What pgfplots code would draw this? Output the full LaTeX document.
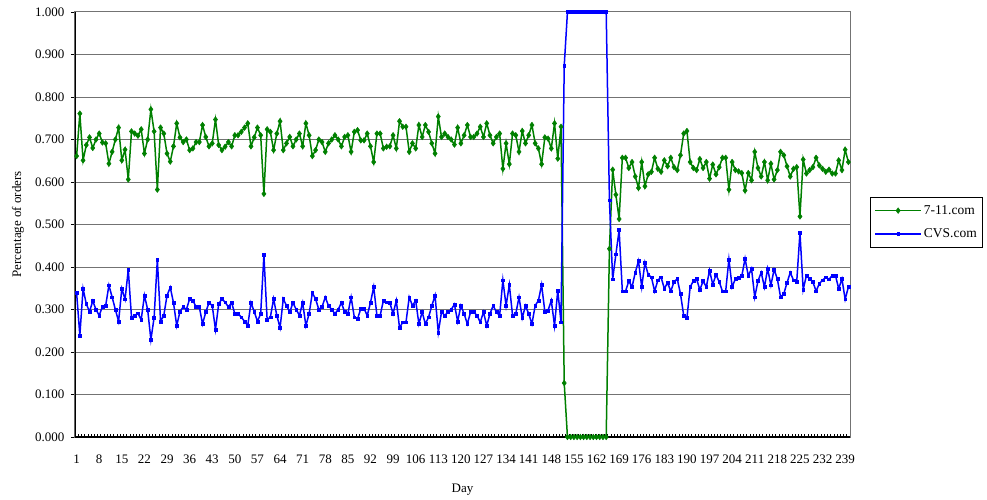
\documentclass[border=0pt]{standalone}
\usepackage{pgfplots}
\pgfplotsset{compat=1.18}
\usepackage{pgfplotstable}
\usepackage{fontspec}
\setmainfont{Liberation Serif}
\definecolor{elgreen}{RGB}{0,128,0}
\definecolor{elblue}{RGB}{0,0,255}
\pgfplotstableread{
day g c
1 0.661 0.339
2 0.761 0.239
3 0.651 0.349
4 0.687 0.313
5 0.705 0.295
6 0.680 0.320
7 0.700 0.300
8 0.714 0.286
9 0.693 0.307
10 0.691 0.309
11 0.643 0.357
12 0.671 0.329
13 0.700 0.300
14 0.728 0.272
15 0.651 0.349
16 0.676 0.324
17 0.606 0.394
18 0.719 0.281
19 0.714 0.286
20 0.709 0.291
21 0.724 0.276
22 0.667 0.333
23 0.700 0.300
24 0.771 0.229
25 0.719 0.281
26 0.582 0.418
27 0.728 0.272
28 0.714 0.286
29 0.667 0.333
30 0.648 0.352
31 0.684 0.316
32 0.738 0.262
33 0.705 0.295
34 0.694 0.306
35 0.700 0.300
36 0.675 0.325
37 0.679 0.321
38 0.694 0.306
39 0.694 0.306
40 0.734 0.266
41 0.706 0.294
42 0.684 0.316
43 0.691 0.309
44 0.747 0.253
45 0.687 0.313
46 0.675 0.325
47 0.683 0.317
48 0.694 0.306
49 0.684 0.316
50 0.710 0.290
51 0.710 0.290
52 0.718 0.282
53 0.728 0.272
54 0.738 0.262
55 0.684 0.316
56 0.705 0.295
57 0.728 0.272
58 0.710 0.290
59 0.572 0.428
60 0.724 0.276
61 0.718 0.282
62 0.675 0.325
63 0.714 0.286
64 0.743 0.257
65 0.675 0.325
66 0.691 0.309
67 0.706 0.294
68 0.684 0.316
69 0.700 0.300
70 0.714 0.286
71 0.684 0.316
72 0.738 0.262
73 0.710 0.290
74 0.661 0.339
75 0.675 0.325
76 0.700 0.300
77 0.694 0.306
78 0.671 0.329
79 0.691 0.309
80 0.700 0.300
81 0.710 0.290
82 0.700 0.300
83 0.684 0.316
84 0.706 0.294
85 0.710 0.290
86 0.671 0.329
87 0.718 0.282
88 0.722 0.278
89 0.698 0.302
90 0.698 0.302
91 0.714 0.286
92 0.684 0.316
93 0.647 0.353
94 0.714 0.286
95 0.714 0.286
96 0.679 0.321
97 0.683 0.317
98 0.684 0.316
99 0.710 0.290
100 0.679 0.321
101 0.743 0.257
102 0.730 0.270
103 0.730 0.270
104 0.671 0.329
105 0.691 0.309
106 0.679 0.321
107 0.734 0.266
108 0.706 0.294
109 0.734 0.266
110 0.718 0.282
111 0.691 0.309
112 0.667 0.333
113 0.754 0.246
114 0.706 0.294
115 0.714 0.286
116 0.706 0.294
117 0.700 0.300
118 0.688 0.312
119 0.728 0.272
120 0.691 0.309
121 0.710 0.290
122 0.734 0.266
123 0.706 0.294
124 0.706 0.294
125 0.714 0.286
126 0.730 0.270
127 0.706 0.294
128 0.738 0.262
129 0.710 0.290
130 0.691 0.309
131 0.706 0.294
132 0.714 0.286
133 0.631 0.369
134 0.691 0.309
135 0.642 0.358
136 0.714 0.286
137 0.710 0.290
138 0.671 0.329
139 0.720 0.280
140 0.691 0.309
141 0.710 0.290
142 0.734 0.266
143 0.691 0.309
144 0.679 0.321
145 0.642 0.358
146 0.705 0.295
147 0.702 0.298
148 0.679 0.321
149 0.738 0.262
150 0.655 0.345
151 0.730 0.270
152 0.127 0.873
153 0.000 1.000
154 0.000 1.000
155 0.000 1.000
156 0.000 1.000
157 0.000 1.000
158 0.000 1.000
159 0.000 1.000
160 0.000 1.000
161 0.000 1.000
162 0.000 1.000
163 0.000 1.000
164 0.000 1.000
165 0.000 1.000
166 0.443 0.557
167 0.629 0.371
168 0.570 0.430
169 0.513 0.487
170 0.657 0.343
171 0.657 0.343
172 0.633 0.367
173 0.647 0.353
174 0.613 0.387
175 0.586 0.414
176 0.647 0.353
177 0.590 0.410
178 0.618 0.382
179 0.624 0.376
180 0.657 0.343
181 0.631 0.369
182 0.624 0.376
183 0.651 0.349
184 0.637 0.363
185 0.657 0.343
186 0.635 0.365
187 0.628 0.372
188 0.663 0.337
189 0.714 0.286
190 0.720 0.280
191 0.647 0.353
192 0.633 0.367
193 0.628 0.372
194 0.654 0.346
195 0.633 0.367
196 0.647 0.353
197 0.608 0.392
198 0.641 0.359
199 0.618 0.382
200 0.635 0.365
201 0.657 0.343
202 0.657 0.343
203 0.582 0.418
204 0.647 0.353
205 0.628 0.372
206 0.625 0.375
207 0.621 0.379
208 0.580 0.420
209 0.621 0.379
210 0.604 0.396
211 0.671 0.329
212 0.633 0.367
213 0.613 0.387
214 0.647 0.353
215 0.604 0.396
216 0.643 0.357
217 0.606 0.394
218 0.628 0.372
219 0.671 0.329
220 0.663 0.337
221 0.637 0.363
222 0.613 0.387
223 0.631 0.369
224 0.635 0.365
225 0.519 0.481
226 0.653 0.347
227 0.620 0.380
228 0.628 0.372
229 0.635 0.365
230 0.657 0.343
231 0.639 0.361
232 0.631 0.369
233 0.624 0.376
234 0.629 0.371
235 0.620 0.380
236 0.620 0.380
237 0.651 0.349
238 0.628 0.372
239 0.676 0.324
240 0.647 0.353
}\datatab

\begin{document}
\begin{tikzpicture}[font=\fontsize{13}{15}\selectfont]
\begin{axis}[
  name=ax,
  scale only axis,
  width=775pt, height=425pt,
  xmin=0.5, xmax=240.5, ymin=0, ymax=1,
  /pgf/number format/assume math mode=true,
  xtick={1,8,...,239},
  minor xtick={0.5,1.5,...,240.5},
  ytick={0,0.1,0.2,0.3,0.4,0.5,0.6,0.7,0.8,0.9,1},
  tick align=outside,
  major tick length=4pt,
  minor tick length=3pt,
  major x tick style={draw=none},
  minor x tick style={black, line width=0.7pt, yshift=3pt},
  y tick style={black, line width=0.8pt},
  xtick pos=bottom, ytick pos=left,
  y tick label style={/pgf/number format/fixed, /pgf/number format/fixed zerofill, /pgf/number format/precision=3, xshift=-3pt},
  x tick label style={yshift=-10pt},
  ymajorgrids,
  major grid style={color=black!55, line width=1pt},
  axis line style={color=black!55, line width=1pt},
  xlabel={Day},
  ylabel={Percentage of orders},
  xlabel style={at={(axis description cs:0.5,-0.124)}, anchor=center},
  ylabel style={at={(axis description cs:-0.0735,0.5)}, anchor=center},
  legend style={at={(axis description cs:1.0258,0.5647)}, anchor=north west, draw=black, line width=0.8pt, font=\fontsize{13.5}{15}\selectfont, row sep=9pt, inner xsep=4pt, inner ysep=6pt},
  legend cell align=left,
  legend image code/.code={\draw[mark repeat=2,mark phase=2,#1] plot coordinates {(0pt,0pt) (23pt,0pt) (46pt,0pt)};},
]
\addplot[color=elgreen, line width=1.5pt, mark=diamond*, mark size=2.8pt, mark options={solid, fill=elgreen, line width=0.5pt}] table[x=day, y=g]{\datatab};
\addlegendentry{7-11.com}
\addplot[color=elblue, line width=1.5pt, mark=square*, mark size=1.4pt, mark options={solid, fill=elblue, line width=0.5pt}] table[x=day, y=c]{\datatab};
\addlegendentry{CVS.com}
\draw[black, line width=1.2pt] (rel axis cs:0,1) -- (rel axis cs:0,0) -- (rel axis cs:1,0);
\end{axis}
\path ([xshift=-75pt,yshift=-62pt]ax.south west) rectangle ([xshift=137pt,yshift=12pt]ax.north east);
\end{tikzpicture}
\end{document}
